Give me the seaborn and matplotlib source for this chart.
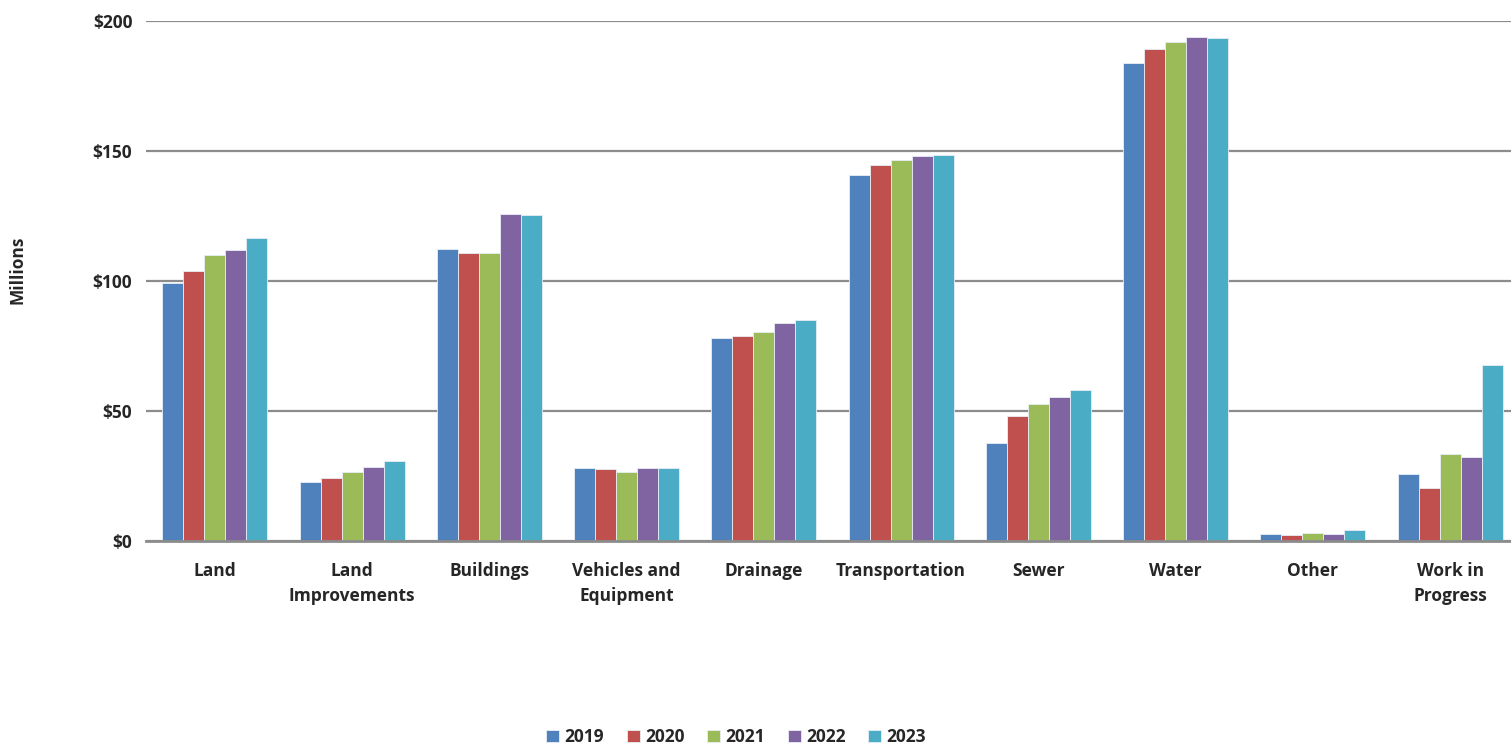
import matplotlib
matplotlib.use("Agg")
import matplotlib.pyplot as plt
import seaborn as sns
import pandas as pd

categories = ["Land", "Land\nImprovements", "Buildings", "Vehicles and\nEquipment",
              "Drainage", "Transportation", "Sewer", "Water", "Other", "Work in\nProgress"]
years = ["2019", "2020", "2021", "2022", "2023"]
v2019 = [99.0, 22.5, 112.1, 27.8, 78.0, 140.8, 37.5, 183.6, 2.6, 25.5]
v2020 = [103.8, 24.2, 110.7, 27.6, 78.6, 144.4, 48.1, 189.0, 2.2, 20.1]
v2021 = [109.8, 26.3, 110.8, 26.3, 80.4, 146.4, 52.5, 191.9, 2.9, 33.4]
v2022 = [111.7, 28.5, 125.8, 27.8, 83.6, 148.1, 55.1, 193.8, 2.6, 32.1]
v2023 = [116.4, 30.6, 125.3, 27.9, 84.9, 148.3, 58.1, 193.5, 4.2, 67.4]
colors = ["#4F81BD", "#C0504D", "#9BBB59", "#8064A2", "#4BACC6"]

rows = []
for yr, vals in zip(years, [v2019, v2020, v2021, v2022, v2023]):
    for cat, v in zip(categories, vals):
        rows.append({"category": cat, "year": yr, "value": v})
df = pd.DataFrame(rows)

sns.set_style("white")
plt.rcParams["font.family"] = ["Open Sans", "DejaVu Sans"]
plt.rcParams["font.weight"] = "bold"

fig = plt.figure(figsize=(15.11, 7.46), dpi=100)
ax = fig.add_axes([146.2 / 1511, 1 - 540.7 / 746, 1372.5 / 1511, 520 / 746])

sns.barplot(data=df, x="category", y="value", hue="year", hue_order=years,
            palette=colors, saturation=1, width=0.765, edgecolor="#e8eef5",
            linewidth=0.6, ax=ax, legend=True)

ax.set_ylim(0, 200)
ax.set_xlim(-0.5, len(categories) - 0.5)
ax.set_yticks([0, 50, 100, 150, 200])
ax.set_yticklabels(["$0", "$50", "$100", "$150", "$200"])
ax.yaxis.grid(True, color="#8c8c8c", linewidth=1.6)
ax.set_axisbelow(True)
for s in ["top", "right", "left"]:
    ax.spines[s].set_visible(False)
ax.spines["bottom"].set_color("#8c8c8c")
ax.spines["bottom"].set_linewidth(2)
ax.spines["bottom"].set_zorder(5)
ax.tick_params(axis="both", length=0, labelsize=12.5)
ax.tick_params(axis="x", pad=15)
ax.tick_params(axis="y", pad=10)
for lab in ax.get_xticklabels() + ax.get_yticklabels():
    lab.set_fontweight("bold")
    lab.set_linespacing(1.5)
ax.set_xlabel("")
ax.set_ylabel("")
fig.text(18 / 1511, 1 - 270 / 746, "Millions", rotation=90, ha="center", va="center",
         fontsize=12.5, fontweight="bold")

handles, labels = ax.get_legend_handles_labels()
ax.legend_.remove()
fig.legend(handles, labels, loc="center", bbox_to_anchor=(736 / 1511, 1 - 737 / 746),
           ncol=5, frameon=False, handlelength=0.75, handleheight=0.75,
           handletextpad=0.3, columnspacing=1.3, prop={"size": 12.5, "weight": "bold"})

fig.savefig("out.png", dpi=100)
